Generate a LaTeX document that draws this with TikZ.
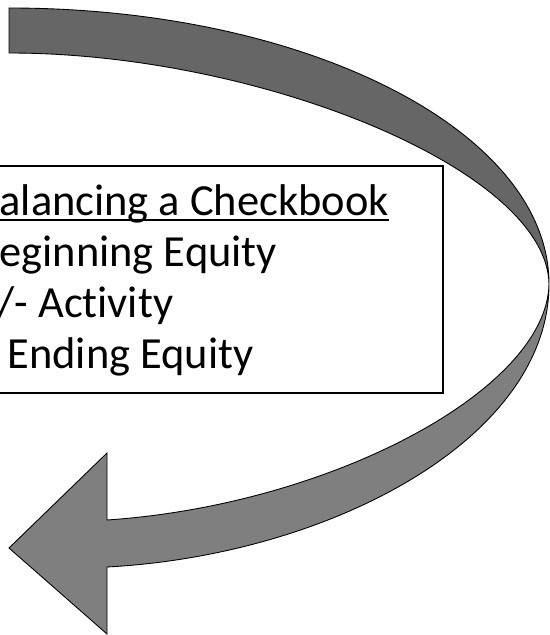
\documentclass[tikz,border=0pt]{standalone}
\usepackage{fontspec}
\setmainfont[Ligatures=NoCommon]{Carlito}
\usepackage{tikz}
\definecolor{back_band}{HTML}{666666}
\definecolor{front_band}{HTML}{7F7F7F}

\begin{document}
\begin{tikzpicture}[
    x=0.02cm, y=-0.02cm, % unita' in pixel, asse y verso il basso
    font=\fontsize{25.3}{30}\selectfont,
    riga/.style={anchor=base west, inner sep=0pt}
]

\useasboundingbox (0,0) rectangle (550,635);
\clip (0,0) rectangle (550,635);
\fill[white] (0,0) rectangle (550,635);

% --- Riquadro con il testo ---
\draw[line width=0.85pt] (-40,166) rectangle (443,393);

\node[riga] (title_line) at (-25,215) {Balancing a Checkbook};
% Sottolineatura del titolo
\draw[line width=1.1pt] ([yshift=-0.1cm]title_line.base west) -- ([yshift=-0.1cm]title_line.base east);

\node[riga] (begin_line) at (-25,266) {Beginning Equity};
\node[riga] (activity_line) at (-25,317) {+/- Activity};
\node[riga] (end_line) at (-25,368) {= Ending Equity};

% --- Freccia curva ---
% Parte posteriore (piu' scura), dalla coda fino alla torsione
\filldraw[fill=back_band, draw=black, line width=0.5pt]
    (9,8) -- (9,53) .. controls (260,53) and (547,170) .. (549,284)
    .. controls (549,131) and (307,8) .. (9,8) -- cycle;

% Parte anteriore con la punta
\filldraw[fill=front_band, draw=black, line width=0.5pt]
    (549,284) .. controls (549,439) and (330,555) .. (107,567)
    -- (107,634) -- (9,548) -- (107,453) -- (107,520)
    .. controls (330,505) and (547,390) .. (549,284) -- cycle;

\end{tikzpicture}
\end{document}
